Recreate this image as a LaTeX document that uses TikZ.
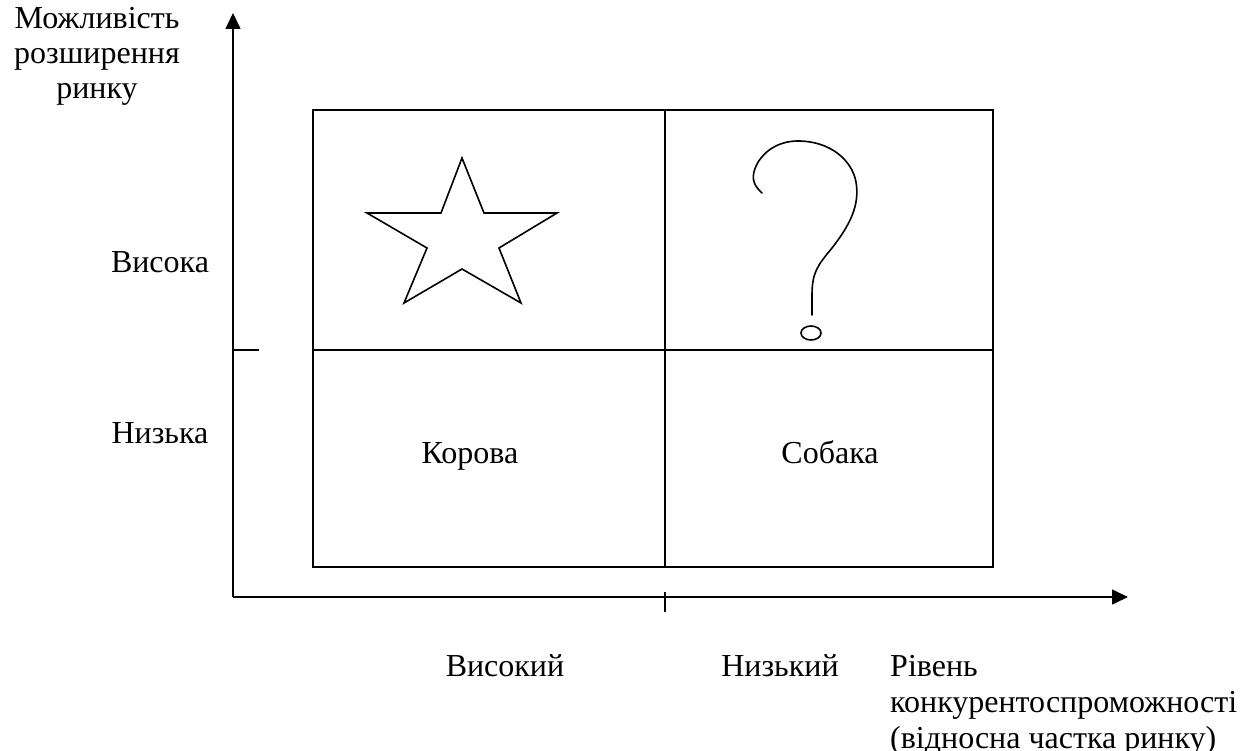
\documentclass[tikz,border=0pt]{standalone}
\usepackage{fontspec}
\setmainfont{Liberation Serif}
\usetikzlibrary{arrows.meta}
\tikzset{
  ln/.style={line width=1.6pt, black},
  axis/.style={line width=1.6pt, -{Triangle[length=16pt,width=15pt]}},
  lbl/.style={font=\fontsize{32}{36}\selectfont, inner sep=0pt, anchor=base},
}
\begin{document}
\begin{tikzpicture}[x=1pt,y=-1pt]
\useasboundingbox (0,0) rectangle (1248,751);
\clip (0,0) rectangle (1248,751);
% axes
\coordinate (O) at (233,597);
\coordinate (Ytop) at (233,13);
\coordinate (Xend) at (1128,597);
\draw[axis] (O) -- (Ytop);
\draw[axis] (O) -- (Xend);
% ticks
\coordinate (ty1) at (233,350);
\coordinate (ty2) at (259,350);
\draw[ln] (ty1) -- (ty2);
\coordinate (tx1) at (665,592);
\coordinate (tx2) at (665,612);
\draw[ln] (tx1) -- (tx2);
% grid
\coordinate (A) at (313,110);
\coordinate (B) at (993,567);
\coordinate (Mt) at (665,110);
\coordinate (Mb) at (665,567);
\coordinate (Ml) at (313,350);
\coordinate (Mr) at (993,350);
\draw[ln] (A) rectangle (B);
\draw[ln] (Mt) -- (Mb);
\draw[ln] (Ml) -- (Mr);
% star
\draw[ln, line join=miter] (462,158) -- (484,213) -- (557,213) -- (499,248) -- (521,303) -- (462,269)
  -- (404,303) -- (427,248) -- (367,213) -- (441,213) -- cycle;
% question mark
\draw[ln, line cap=round] (762,193) .. controls (752,184) and (751,176) .. (757,164)
  .. controls (766,148) and (782,141) .. (798,141)
  .. controls (830,141) and (852,160) .. (856,182)
  .. controls (860,205) and (850,225) .. (832,248)
  .. controls (818,265) and (812,272) .. (812,295)
  -- (812,315);
\draw[ln] (811,333) ellipse (10pt and 7pt);
% labels
\node[lbl] (ylab1) at (97,29) {Можливість};
\node[lbl] (ylab2) at (97,64) {розширення};
\node[lbl] (ylab3) at (97,99) {ринку};
\node[lbl] (hi) at (160,273) {Висока};
\node[lbl] (lo) at (160,443) {Низька};
\node[lbl] (cow) at (470,463) {Корова};
\node[lbl] (dog) at (830,463) {Собака};
\node[lbl] (xhi) at (505,676) {Високий};
\node[lbl] (xlo) at (780,676) {Низький};
\node[lbl, anchor=base west] (xlab1) at (890,676) {Рівень};
\node[lbl, anchor=base west] (xlab2) at (890,712) {конкурентоспроможності};
\node[lbl, anchor=base west] (xlab3) at (890,748) {(відносна частка ринку)};
\end{tikzpicture}
\end{document}
